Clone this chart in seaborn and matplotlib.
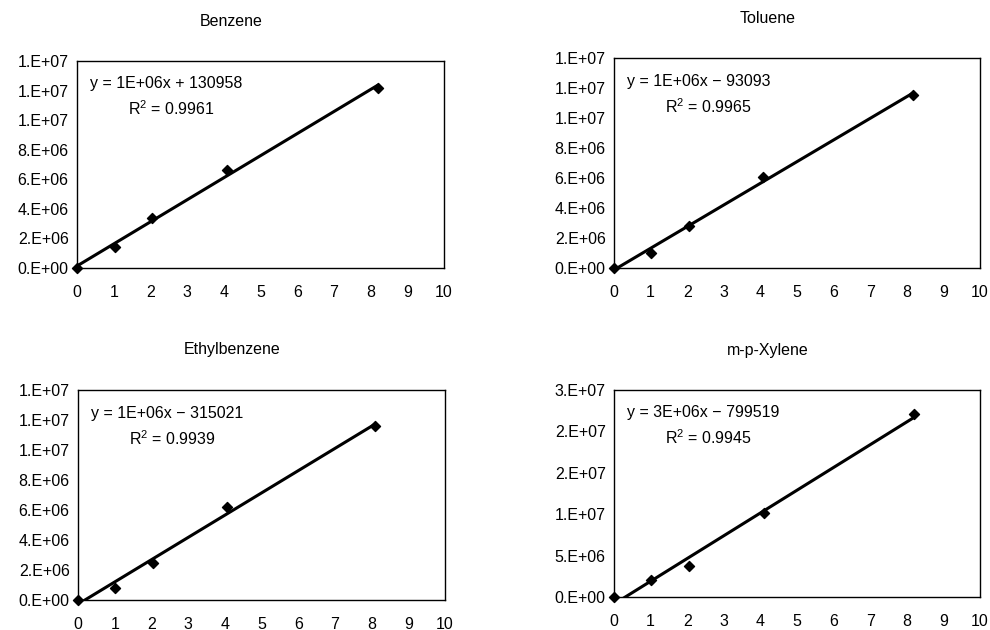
import matplotlib
matplotlib.use('Agg')
import matplotlib.pyplot as plt
import seaborn as sns
import pandas as pd
from decimal import Decimal, ROUND_HALF_UP
from matplotlib.ticker import FuncFormatter, MultipleLocator

# calibration data
names = ['Benzene', 'Toluene', 'Ethylbenzene', 'm-p-Xylene']
conc_benzene = [0, 1.025, 2.05, 4.1, 8.2]
area_benzene = [0, 1.42e6, 3.39e6, 6.66e6, 1.215e7]
conc_toluene = [0, 1.02, 2.04, 4.08, 8.16]
area_toluene = [0, 1.0e6, 2.83e6, 6.09e6, 1.153e7]
conc_ethyl = [0, 1.01, 2.03, 4.05, 8.1]
area_ethyl = [0, 0.82e6, 2.49e6, 6.22e6, 1.16e7]
conc_xylene = [0, 1.02, 2.05, 4.1, 8.2]
area_xylene = [0, 2.0e6, 3.75e6, 1.02e7, 2.206e7]
equations = ['y = 1E+06x + 130958', 'y = 1E+06x \u2212 93093',
             'y = 1E+06x \u2212 315021', 'y = 3E+06x \u2212 799519']
r2_values = ['0.9961', '0.9965', '0.9939', '0.9945']
y_max = [1.4e7, 1.4e7, 1.4e7, 2.5e7]
y_step = [2e6, 2e6, 2e6, 5e6]

sns.set_style('white')
plt.rcParams['font.family'] = ['Liberation Sans', 'DejaVu Sans']
plt.rcParams['text.color'] = 'black'
FS = 11.5


def excel_sci(v, pos=None):
    # Excel "0.E+00" number format, rounds half up
    if v == 0:
        return '0.E+00'
    exp = int(f'{v:E}'.split('E')[1])
    mant = Decimal(str(v / 10 ** exp)).quantize(Decimal('1'), rounding=ROUND_HALF_UP)
    if mant >= 10:
        mant = mant / 10
        exp += 1
    return f'{int(mant)}.E{exp:+03d}'


fig = plt.figure(figsize=(9.9, 6.3), dpi=100)
W, H = 990, 630
boxes = [(77, 61, 444, 268), (614, 58, 980, 268),
         (78, 390, 445, 600), (614, 390, 980, 597)]
data = [(conc_benzene, area_benzene), (conc_toluene, area_toluene),
        (conc_ethyl, area_ethyl), (conc_xylene, area_xylene)]

for i, name in enumerate(names):
    l, t, r, b = boxes[i]
    ax = fig.add_axes([l / W, 1 - b / H, (r - l) / W, (b - t) / H])
    df = pd.DataFrame({'conc': data[i][0], 'area': data[i][1]})
    sns.regplot(data=df, x='conc', y='area', ci=None, ax=ax,
                marker='D', color='black',
                scatter_kws={'s': 26, 'alpha': 1, 'zorder': 4, 'clip_on': False},
                line_kws={'linewidth': 2.2})
    ax.set_xlim(0, 10)
    ax.set_ylim(0, y_max[i])
    ax.xaxis.set_major_locator(MultipleLocator(1))
    ax.yaxis.set_major_locator(MultipleLocator(y_step[i]))
    ax.yaxis.set_major_formatter(FuncFormatter(excel_sci))
    ax.tick_params(direction='in', length=3, width=0.8, color='black',
                   labelsize=FS, labelcolor='black')
    ax.tick_params(axis='x', pad=12)
    ax.tick_params(axis='y', pad=6)
    ax.set_xlabel('')
    ax.set_ylabel('')
    for sp in ax.spines.values():
        sp.set_color('black')
        sp.set_linewidth(1.0)
    ax.text(0.42, 1 + 40 / (b - t), name, transform=ax.transAxes,
            ha='center', va='center', fontsize=FS, color='black')
    ax.text(0.035, 0.89, equations[i], transform=ax.transAxes,
            ha='left', va='center', fontsize=FS, color='black')
    ax.text(0.14, 0.77, '$\\mathregular{R^2}$ = ' + r2_values[i],
            transform=ax.transAxes, ha='left', va='center', fontsize=FS,
            color='black')

fig.savefig('out.png', dpi=100)
